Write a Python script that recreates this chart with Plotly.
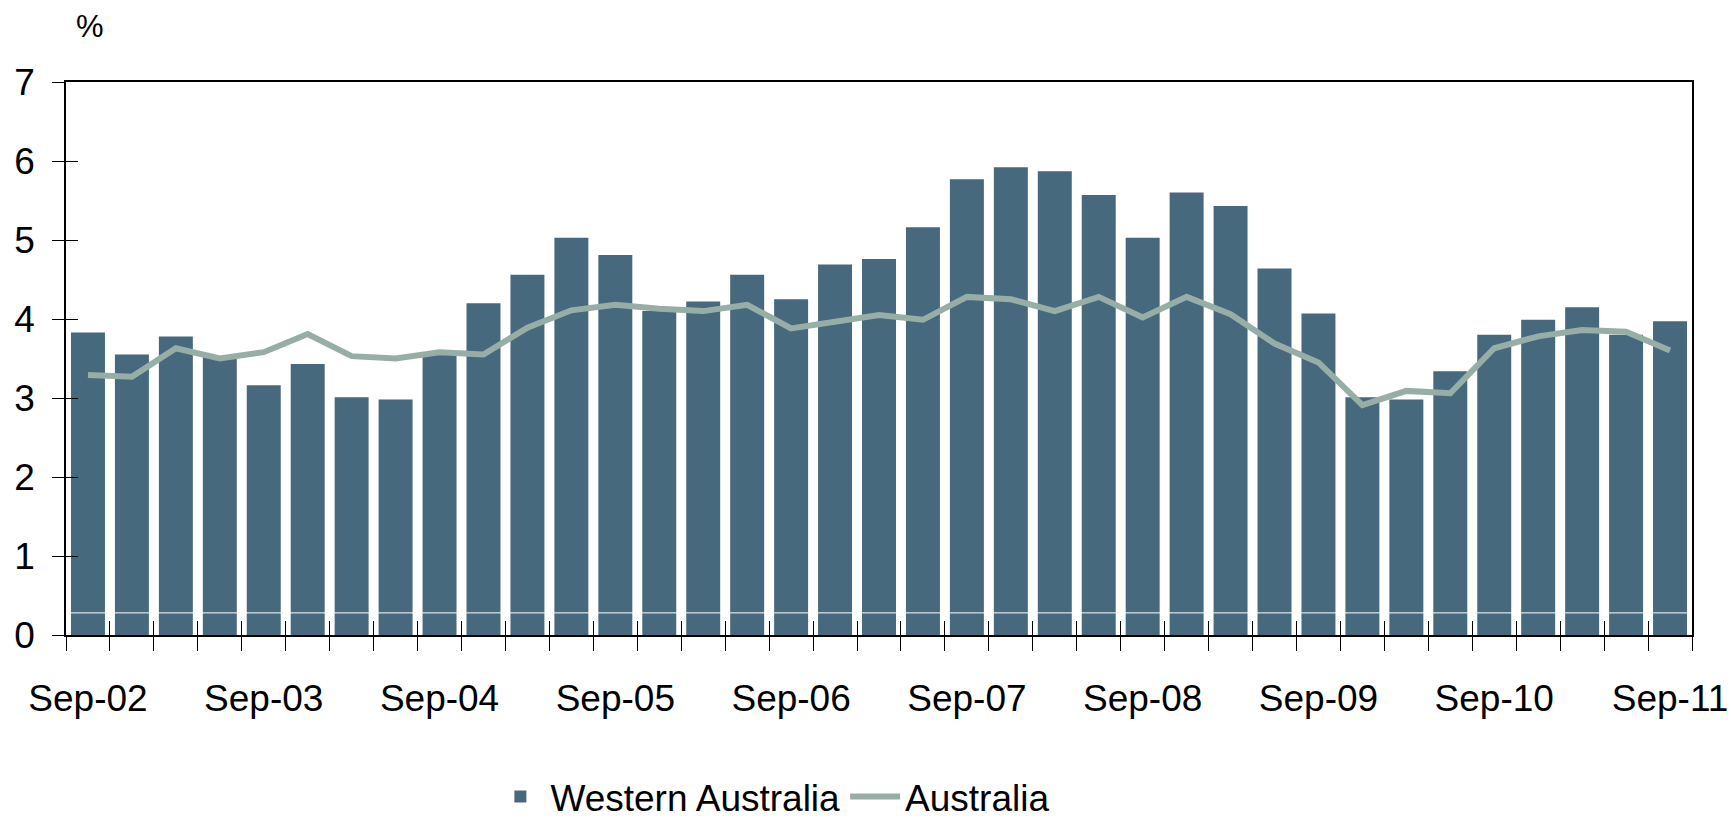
import plotly.graph_objects as go

quarters = [
    "Sep-02", "Dec-02", "Mar-03", "Jun-03", "Sep-03", "Dec-03", "Mar-04", "Jun-04",
    "Sep-04", "Dec-04", "Mar-05", "Jun-05", "Sep-05", "Dec-05", "Mar-06", "Jun-06",
    "Sep-06", "Dec-06", "Mar-07", "Jun-07", "Sep-07", "Dec-07", "Mar-08", "Jun-08",
    "Sep-08", "Dec-08", "Mar-09", "Jun-09", "Sep-09", "Dec-09", "Mar-10", "Jun-10",
    "Sep-10", "Dec-10", "Mar-11", "Jun-11", "Sep-11",
]
western_australia = [
    3.83, 3.55, 3.78, 3.52, 3.16, 3.43, 3.01, 2.98,
    3.55, 4.20, 4.56, 5.03, 4.81, 4.10, 4.22, 4.56,
    4.25, 4.69, 4.76, 5.16, 5.77, 5.92, 5.87, 5.57,
    5.03, 5.60, 5.43, 4.64, 4.07, 3.01, 2.98, 3.34,
    3.80, 3.99, 4.15, 3.80, 3.97,
]
australia = [
    3.29, 3.27, 3.63, 3.50, 3.58, 3.81, 3.53, 3.50,
    3.58, 3.55, 3.89, 4.11, 4.18, 4.13, 4.10, 4.18,
    3.88, 3.97, 4.05, 3.99, 4.28, 4.25, 4.10, 4.28,
    4.02, 4.28, 4.06, 3.69, 3.45, 2.91, 3.09, 3.06,
    3.63, 3.78, 3.86, 3.84, 3.60,
]
y_ticks = [0, 1, 2, 3, 4, 5, 6, 7]

FONT = "Liberation Sans, Arial, sans-serif"
BAR_COLOR = "#46697E"
LINE_COLOR = "#97AEA6"

n = len(quarters)
xs = list(range(n))
label_pos = [i for i, q in enumerate(quarters) if q.startswith("Sep")]
label_txt = [quarters[i] for i in label_pos]
boundaries = [i - 0.5 for i in range(n + 1)]

fig = go.Figure()
fig.add_trace(go.Bar(
    x=xs, y=western_australia, name="Western Australia",
    marker=dict(color=BAR_COLOR, line=dict(width=0)),
    customdata=quarters, hovertemplate="%{customdata}: %{y}<extra>Western Australia</extra>",
    xaxis="x", yaxis="y",
))
fig.add_trace(go.Scatter(
    x=xs, y=australia, name="Australia", mode="lines",
    line=dict(color=LINE_COLOR, width=6),
    customdata=quarters, hovertemplate="%{customdata}: %{y}<extra>Australia</extra>",
    xaxis="x2", yaxis="y2",
))

xr = [-0.5, n - 0.5]
yr = [0, 7]

fig.update_layout(
    width=1731, height=819,
    margin=dict(l=66, r=39, t=82, b=184),
    paper_bgcolor="white", plot_bgcolor="white",
    font=dict(family=FONT, size=37, color="black"),
    bargap=0.227,
    showlegend=True,
    legend=dict(
        orientation="h", x=0.261, xanchor="left",
        yref="container", y=0.027, yanchor="middle",
        font=dict(size=37), itemwidth=50, bgcolor="rgba(0,0,0,0)",
    ),
    xaxis=dict(
        range=xr, showgrid=False, zeroline=False, automargin=False,
        tickmode="array", tickvals=label_pos, ticktext=label_txt, ticks="",
        ticklabelstandoff=30, ticklabeloverflow="allow",
        minor=dict(tickmode="array", tickvals=boundaries, ticks="outside",
                   ticklen=14, tickwidth=1.3, tickcolor="black", showgrid=False),
        showline=True, linecolor="black", linewidth=1.5, mirror=True,
        tickfont=dict(size=37),
    ),
    yaxis=dict(
        range=yr, showgrid=False, zeroline=False, automargin=False,
        tickmode="array", tickvals=y_ticks, ticks="outside", ticklen=12,
        tickwidth=1.3, tickcolor="black", ticklabelstandoff=10,
        showline=True, linecolor="black", linewidth=1.5, mirror=True,
        tickfont=dict(size=37),
    ),
    xaxis2=dict(
        overlaying="x", anchor="y2", range=xr, showgrid=False, zeroline=False,
        tickmode="array", tickvals=boundaries, ticks="inside", ticklen=14,
        tickwidth=1.3, tickcolor="black", showticklabels=False, showline=False,
        automargin=False,
    ),
    yaxis2=dict(
        overlaying="y", anchor="x2", side="left", range=yr, showgrid=False,
        zeroline=False, tickmode="array", tickvals=y_ticks, ticks="inside",
        ticklen=12, tickwidth=1.3, tickcolor="black", showticklabels=False,
        showline=False, automargin=False,
    ),
    annotations=[dict(
        text="%", xref="paper", yref="paper", x=0.015, y=1.10,
        xanchor="center", yanchor="middle", showarrow=False,
        font=dict(size=31, family=FONT, color="black"),
    )],
    shapes=[dict(
        type="line", xref="paper", yref="y", x0=0, x1=1, y0=0.28, y1=0.28,
        line=dict(color="white", width=1), layer="above",
    )],
)

fig.write_html(
    "out.html",
    config={"displayModeBar": False},
    post_script="document.body.style.margin='0px';document.body.style.overflow='hidden';",
)
